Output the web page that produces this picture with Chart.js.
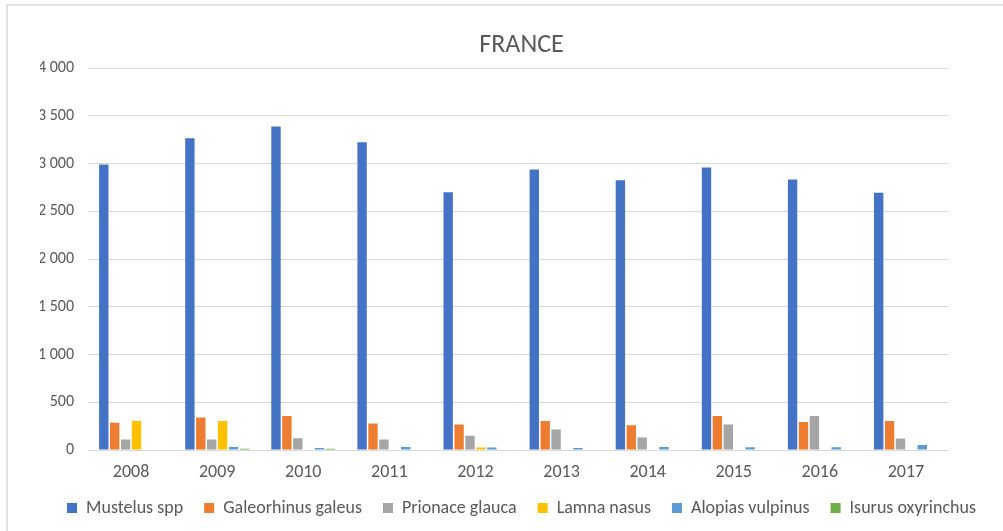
<!DOCTYPE html>
<html>
<head>
<meta charset="utf-8">
<script src="https://cdn.jsdelivr.net/npm/chart.js@4"></script>
<style>
    body { margin: 0; background: #fff; }
    #wrap { width: 1003px; height: 531px; }
</style>
</head>
<body>
<div id="wrap"><canvas id="franceChart" width="1003" height="531"></canvas></div>
<script>
const years = ['2008', '2009', '2010', '2011', '2012', '2013', '2014', '2015', '2016', '2017'];
const mustelus = [2990, 3265, 3390, 3225, 2700, 2940, 2825, 2960, 2835, 2695];
const galeorhinus = [285, 340, 355, 277, 266, 305, 259, 355, 294, 305];
const prionace = [110, 110, 124, 110, 149, 216, 131, 266, 355, 121];
const lamna = [305, 305, 0, 0, 25, 0, 0, 0, 0, 0];
const alopias = [0, 32, 21, 32, 25, 21, 32, 28, 28, 53];
const isurus = [0, 14, 14, 0, 0, 0, 0, 0, 0, 0];
const yTicks = [0, 500, 1000, 1500, 2000, 2500, 3000, 3500, 4000];

const font = 'Calibri, Carlito, Lato, "Liberation Sans", sans-serif';
const txt = '#595959';

// light frame like the Excel chart area
const frame = {
    id: 'frame',
    beforeDraw(chart) {
        const c = chart.ctx;
        c.save();
        c.strokeStyle = '#d9d9d9';
        c.lineWidth = 1.5;
        c.beginPath();
        c.moveTo(7, 531);
        c.lineTo(7, 5);
        c.lineTo(1003, 5);
        c.stroke();
        c.restore();
    }
};

function ds(label, data, color) {
    return { label, data, backgroundColor: color, categoryPercentage: 0.76, barPercentage: 0.86 };
}

const ctx = document.getElementById('franceChart').getContext('2d');
new Chart(ctx, {
    type: 'bar',
    data: {
        labels: years,
        datasets: [
            ds('Mustelus spp', mustelus, '#4472C4'),
            ds('Galeorhinus galeus', galeorhinus, '#ED7D31'),
            ds('Prionace glauca', prionace, '#A5A5A5'),
            ds('Lamna nasus', lamna, '#FFC000'),
            ds('Alopias vulpinus', alopias, '#5B9BD5'),
            ds('Isurus oxyrinchus', isurus, '#70AD47')
        ]
    },
    options: {
        responsive: false,
        animation: false,
        layout: { padding: { left: 40, right: 0, top: 0, bottom: 4 } },
        plugins: {
            title: {
                display: true,
                text: 'FRANCE',
                color: txt,
                font: { family: font, size: 26, weight: 'normal' },
                padding: { top: 30, bottom: 7 }
            },
            legend: {
                position: 'bottom',
                labels: {
                    color: txt,
                    font: { family: font, size: 18 },
                    boxWidth: 10,
                    boxHeight: 10,
                    padding: 21
                }
            },
            tooltip: { enabled: false }
        },
        scales: {
            y: {
                min: 0,
                max: 4000,
                afterBuildTicks: s => { s.ticks = yTicks.map(v => ({ value: v })); },
                afterFit: s => { s.width = 48; },
                border: { display: false },
                grid: { color: '#d9d9d9', lineWidth: 1, drawTicks: false },
                ticks: {
                    padding: 14,
                    color: txt,
                    font: { family: font, size: 16 },
                    callback: v => String(v).replace(/\B(?=(\d{3})+(?!\d))/g, ' ')
                }
            },
            // empty right axis only keeps the gap on the right of the plot
            yGap: {
                position: 'right',
                afterFit: s => { s.width = 54; },
                border: { display: false },
                grid: { display: false },
                ticks: { display: false }
            },
            x: {
                afterFit: s => { s.height = 28; },
                border: { display: false },
                grid: { display: false },
                ticks: { padding: 4, color: txt, font: { family: font, size: 18 } }
            }
        }
    },
    plugins: [frame]
});
</script>
</body>
</html>
